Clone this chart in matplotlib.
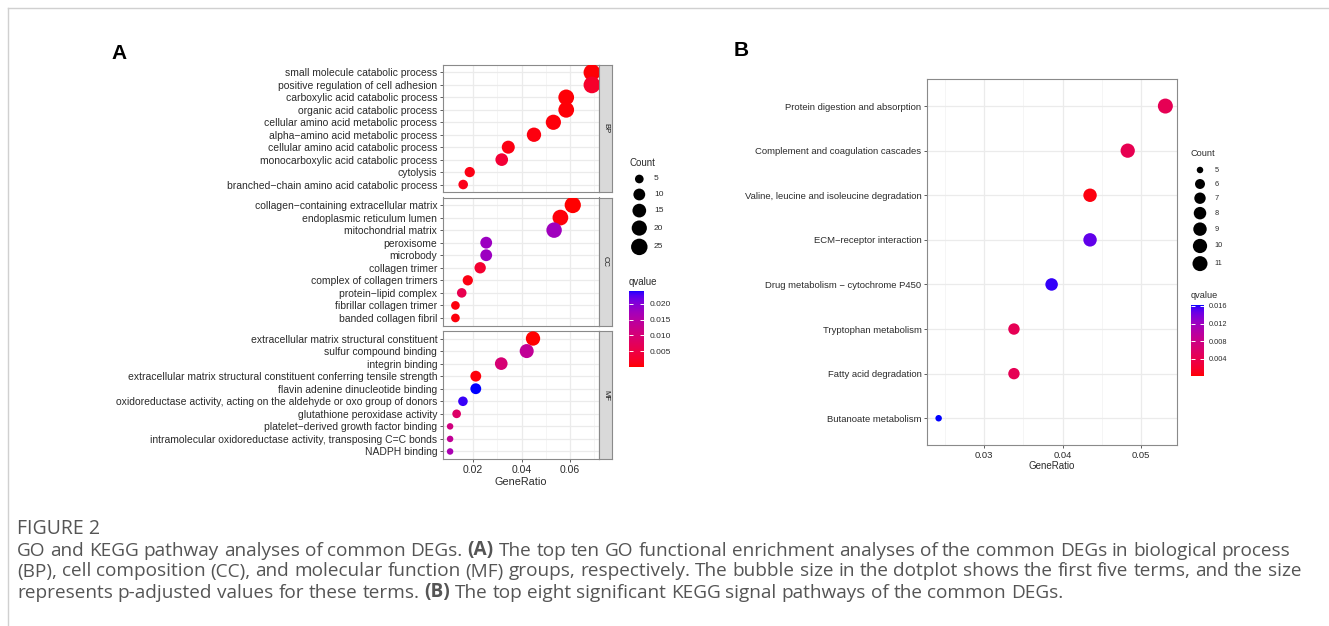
import numpy as np
import matplotlib
matplotlib.use("Agg")
import matplotlib.pyplot as plt
from matplotlib.colors import ListedColormap, Normalize
import matplotlib.cm as cm

# ---------------- data ----------------
M_ = "\u2212"
bp_terms = ["small molecule catabolic process", "positive regulation of cell adhesion",
            "carboxylic acid catabolic process", "organic acid catabolic process",
            "cellular amino acid metabolic process", "alpha" + M_ + "amino acid metabolic process",
            "cellular amino acid catabolic process", "monocarboxylic acid catabolic process",
            "cytolysis", "branched" + M_ + "chain amino acid catabolic process"]
bp_ratio = [0.0690, 0.0690, 0.0584, 0.0584, 0.0531, 0.0451, 0.0345, 0.0318, 0.0186, 0.0159]
bp_count = [26, 26, 22, 22, 20, 17, 13, 12, 7, 6]
bp_q = [0.0002, 0.0025, 0.0003, 0.0003, 0.0004, 0.0006, 0.0008, 0.0035, 0.0009, 0.0012]

cc_terms = ["collagen" + M_ + "containing extracellular matrix", "endoplasmic reticulum lumen",
            "mitochondrial matrix", "peroxisome", "microbody", "collagen trimer",
            "complex of collagen trimers", "protein" + M_ + "lipid complex",
            "fibrillar collagen trimer", "banded collagen fibril"]
cc_ratio = [0.0611, 0.0560, 0.0534, 0.0254, 0.0254, 0.0229, 0.0178, 0.0153, 0.0127, 0.0127]
cc_count = [24, 22, 21, 10, 10, 9, 7, 6, 5, 5]
cc_q = [0.00001, 0.0004, 0.0175, 0.0180, 0.0180, 0.0030, 0.0008, 0.0060, 0.0005, 0.0005]

mf_terms = ["extracellular matrix structural constituent", "sulfur compound binding",
            "integrin binding",
            "extracellular matrix structural constituent conferring tensile strength",
            "flavin adenine dinucleotide binding",
            "oxidoreductase activity, acting on the aldehyde or oxo group of donors",
            "glutathione peroxidase activity", "platelet" + M_ + "derived growth factor binding",
            "intramolecular oxidoreductase activity, transposing C=C bonds", "NADPH binding"]
mf_ratio = [0.0447, 0.0421, 0.0316, 0.0211, 0.0211, 0.0158, 0.0132, 0.0105, 0.0105, 0.0105]
mf_count = [17, 16, 12, 8, 8, 6, 5, 4, 4, 4]
mf_q = [0.0001, 0.0135, 0.0098, 0.0004, 0.0242, 0.0235, 0.0085, 0.0110, 0.0135, 0.0165]

go_facets = ["BP", "CC", "MF"]
go_size_breaks = [5, 10, 15, 20, 25]
go_q_breaks = [0.005, 0.010, 0.015, 0.020]

kegg_terms = ["Protein digestion and absorption", "Complement and coagulation cascades",
              "Valine, leucine and isoleucine degradation", "ECM" + M_ + "receptor interaction",
              "Drug metabolism " + M_ + " cytochrome P450", "Tryptophan metabolism",
              "Fatty acid degradation", "Butanoate metabolism"]
kegg_ratio = [0.0531, 0.0483, 0.0435, 0.0435, 0.0386, 0.0338, 0.0338, 0.0242]
kegg_count = [11, 10, 9, 9, 8, 7, 7, 5]
kegg_q = [0.0045, 0.0042, 0.0005, 0.0148, 0.0158, 0.0045, 0.0045, 0.0162]
kegg_size_breaks = [5, 6, 7, 8, 9, 10, 11]
kegg_q_breaks = [0.004, 0.008, 0.012, 0.016]

caption_title = "FIGURE 2"
caption_lines = [
    [("GO and KEGG pathway analyses of common DEGs.", False), ("(A)", True),
     ("The top ten GO functional enrichment analyses of the common DEGs in biological process", False)],
    [("(BP), cell composition (CC), and molecular function (MF) groups, respectively. The bubble size in the dotplot shows the first five terms, and the size", False)],
    [("represents p-adjusted values for these terms.", False), ("(B)", True),
     ("The top eight significant KEGG signal pathways of the common DEGs.", False)],
]

# ---------------- style helpers ----------------
W, H = 1329, 626
DPI = 100
FONT = "Liberation Sans"
plt.rcParams["font.family"] = [FONT, "DejaVu Sans"]
TXT = "#2b2b2b"
GRID_MAJ = "#EBEBEB"
GRID_MIN = "#F4F4F4"
BORDER = "#8a8a8a"

fig = plt.figure(figsize=(W / DPI, H / DPI), dpi=DPI)
renderer = fig.canvas.get_renderer()


def rect(x0, y0, x1, y1):
    return [x0 / W, 1 - y1 / H, (x1 - x0) / W, (y1 - y0) / H]


# Lab-space red -> blue gradient (as ggplot scale_color_gradient)
_M = np.array([[0.4124564, 0.3575761, 0.1804375],
               [0.2126729, 0.7151522, 0.0721750],
               [0.0193339, 0.1191920, 0.9503041]])
_WP = np.array([0.95047, 1.0, 1.08883])


def srgb2lab(rgb):
    rgb = np.asarray(rgb, float)
    lin = np.where(rgb <= 0.04045, rgb / 12.92, ((rgb + 0.055) / 1.055) ** 2.4)
    xyz = _M @ lin / _WP
    f = np.where(xyz > 216 / 24389, np.cbrt(xyz), (24389 / 27 * xyz + 16) / 116)
    return np.array([116 * f[1] - 16, 500 * (f[0] - f[1]), 200 * (f[1] - f[2])])


def lab2srgb(lab):
    L, a, b = lab
    fy = (L + 16) / 116
    f = np.array([fy + a / 500, fy, fy - b / 200])
    xyz = np.where(f ** 3 > 216 / 24389, f ** 3, (116 * f - 16) / (24389 / 27)) * _WP
    lin = np.clip(np.linalg.inv(_M) @ xyz, 0, 1)
    rgb = np.where(lin <= 0.0031308, 12.92 * lin, 1.055 * lin ** (1 / 2.4) - 0.055)
    return np.clip(rgb, 0, 1)


lab_lo, lab_hi = srgb2lab([1, 0, 0]), srgb2lab([0, 0, 1])
cmap = ListedColormap([lab2srgb(lab_lo + t * (lab_hi - lab_lo)) for t in np.linspace(0, 1, 256)])


def diam(c, cmin, cmax, d0, d1):
    return d0 + (d1 - d0) * np.sqrt((np.asarray(c, float) - cmin) / (cmax - cmin))


def s_of(dpx):
    return (np.asarray(dpx) * 72 / DPI) ** 2


def style_axes(ax, fs_tick):
    for sp in ax.spines.values():
        sp.set_color(BORDER)
        sp.set_linewidth(0.8)
    ax.grid(which="major", color=GRID_MAJ, lw=0.9, zorder=0)
    ax.grid(which="minor", axis="x", color=GRID_MIN, lw=0.6, zorder=0)
    ax.set_axisbelow(True)
    ax.tick_params(axis="both", which="major", length=2.5, width=0.6, color="#444444",
                   labelsize=fs_tick, labelcolor=TXT, pad=1.6)
    ax.tick_params(axis="x", which="minor", length=0)


# ---------------- Panel A ----------------
allA_ratio = np.array(bp_ratio + cc_ratio + mf_ratio)
allA_count = np.array(bp_count + cc_count + mf_count)
allA_q = np.array(bp_q + cc_q + mf_q)
spanA = allA_ratio.max() - allA_ratio.min()
xlimA = (allA_ratio.min() - 0.05 * spanA, allA_ratio.max() + 0.05 * spanA)
normA = Normalize(allA_q.min(), allA_q.max())
cminA, cmaxA = allA_count.min(), allA_count.max()
dA0, dA1 = 6.5, 16.7

facet_data = [(bp_terms, bp_ratio, bp_count, bp_q),
              (cc_terms, cc_ratio, cc_count, cc_q),
              (mf_terms, mf_ratio, mf_count, mf_q)]
facet_px = [(65, 192), (197.5, 325.5), (331, 459)]
axA_x0, axA_x1, strip_x1 = 443, 599, 612

for i, ((terms, ratio, count, q), (top, bot), lab) in enumerate(zip(facet_data, facet_px, go_facets)):
    ax = fig.add_axes(rect(axA_x0, top, axA_x1, bot))
    n = len(terms)
    ypos = np.arange(n)[::-1] + 1
    ax.scatter(ratio, ypos, s=s_of(diam(count, cminA, cmaxA, dA0, dA1)), c=q, cmap=cmap,
               norm=normA, linewidths=0, zorder=3)
    ax.set_xlim(*xlimA)
    ax.set_ylim(0.4, n + 0.6)
    ax.set_yticks(ypos)
    ax.set_yticklabels(terms)
    ax.set_xticks([0.02, 0.04, 0.06])
    ax.set_xticks([0.03, 0.05, 0.07], minor=True)
    style_axes(ax, 7.5)
    if i < 2:
        ax.tick_params(axis="x", which="major", length=0, labelbottom=False)
    else:
        ax.set_xticklabels(["0.02", "0.04", "0.06"])
        ax.set_xlabel("GeneRatio", fontsize=7.8, color=TXT, labelpad=1.5)
    st = fig.add_axes(rect(axA_x1, top, strip_x1, bot))
    st.set_facecolor("#D9D9D9")
    st.set_xticks([]); st.set_yticks([])
    for sp in st.spines.values():
        sp.set_color(BORDER); sp.set_linewidth(0.8)
    st.text(0.5, 0.5, lab, rotation=-90, ha="center", va="center", fontsize=5.5,
            color="#1a1a1a", transform=st.transAxes)

# ---------------- Panel B ----------------
kr = np.array(kegg_ratio)
spanB = kr.max() - kr.min()
xlimB = (kr.min() - 0.05 * spanB, kr.max() + 0.05 * spanB)
normB = Normalize(min(kegg_q) - 0.0004, max(kegg_q))
cminB, cmaxB = min(kegg_count), max(kegg_count)
dB0, dB1 = 6.5, 15.0

axB = fig.add_axes(rect(927.3, 79.3, 1176.7, 445))
nB = len(kegg_terms)
yB = np.arange(nB)[::-1] + 1
axB.scatter(kegg_ratio, yB, s=s_of(diam(kegg_count, cminB, cmaxB, dB0, dB1)), c=kegg_q,
            cmap=cmap, norm=normB, linewidths=0, zorder=3)
axB.set_xlim(*xlimB)
axB.set_ylim(0.4, nB + 0.6)
axB.set_yticks(yB)
axB.set_yticklabels(kegg_terms)
axB.set_xticks([0.03, 0.04, 0.05])
axB.set_xticklabels(["0.03", "0.04", "0.05"])
axB.set_xticks([0.025, 0.035, 0.045], minor=True)
style_axes(axB, 6.8)
axB.set_xlabel("GeneRatio", fontsize=7.0, color=TXT, labelpad=1.2)

# ---------------- overlay: legends, frame, labels ----------------
ov = fig.add_axes([0, 0, 1, 1])
ov.set_xlim(0, W)
ov.set_ylim(H, 0)
ov.axis("off")

# frame
ov.plot([7.5, 7.5], [8, H], color="#D0D0D0", lw=1.0, clip_on=False)
ov.plot([7.5, W], [8, 8], color="#D0D0D0", lw=1.0, clip_on=False)

ov.text(119, 53.5, "A", fontsize=15, fontweight="bold", ha="center", va="center", color="black")
ov.text(741, 50, "B", fontsize=15, fontweight="bold", ha="center", va="center", color="black")


def size_legend(x_title, y_title, x_dot, x_lab, y_first, breaks, cmin, cmax, d0, d1,
                kmin, fs_title, fs_lab):
    ov.text(x_title, y_title, "Count", fontsize=fs_title, color=TXT, ha="left", va="center")
    ds = diam(breaks, cmin, cmax, d0, d1)
    hs = np.maximum(kmin, ds + 3.0)
    ys = y_first + np.concatenate([[0], np.cumsum((hs[:-1] + hs[1:]) / 2)])
    ov.scatter(np.full(len(breaks), x_dot), ys, s=s_of(ds), color="black", linewidths=0)
    for b, y in zip(breaks, ys):
        ov.text(x_lab, y, str(b), fontsize=fs_lab, color=TXT, ha="left", va="center")


def q_legend(x_title, y_title, bar_rect, norm, breaks, fmt, fs_title, fs_lab):
    ov.text(x_title, y_title, "qvalue", fontsize=fs_title, color=TXT, ha="left", va="center")
    cax = fig.add_axes(rect(*bar_rect))
    sm = cm.ScalarMappable(norm=norm, cmap=cmap)
    cb = fig.colorbar(sm, cax=cax, ticks=breaks)
    cb.outline.set_visible(False)
    cax.set_yticklabels([fmt.format(b) for b in breaks])
    cax.tick_params(direction="in", length=3, width=0.7, color="white", left=True, right=True,
                    labelleft=False, labelright=True, labelsize=fs_lab, labelcolor=TXT, pad=3.5)


size_legend(629, 162.7, 639.3, 654, 179, go_size_breaks, cminA, cmaxA, dA0, dA1, 15.5, 7.0, 6.0)
q_legend(629, 281.7, (629.3, 290.7, 644.3, 366.7), normA, go_q_breaks, "{:.3f}", 7.0, 6.0)

size_legend(1190.7, 154, 1200, 1214.7, 170, kegg_size_breaks, cminB, cmaxB, dB0, dB1, 14.0, 6.6, 5.3)
q_legend(1190.7, 295, (1190.7, 305, 1204.3, 376), normB, kegg_q_breaks, "{:.3f}", 6.6, 5.3)

# ---------------- caption ----------------
CAP_FAM = ["Open Sans", "Lato", "DejaVu Sans"]
CAP_COL = "#555555"
CAP_W = "normal"


def measure(word, fs, bold):
    t = fig.text(0, 0, word, fontsize=fs, family=CAP_FAM, fontweight="bold" if bold else CAP_W)
    w = t.get_window_extent(renderer).width
    t.remove()
    return w


def words_of(segs):
    out = []
    for text, bold in segs:
        for w in text.split():
            out.append((w, bold))
    return out


def space_w(fs):
    return measure("x x", fs, False) - measure("xx", fs, False)


def natural_width(segs, fs):
    ws = words_of(segs)
    return sum(measure(w, fs, b) for w, b in ws) + space_w(fs) * (len(ws) - 1)


fs0 = 12.0
fs_cap = fs0 * 1278.0 / natural_width(caption_lines[1], fs0)


def draw_line(segs, x0, ybase, fs):
    ws = words_of(segs)
    gap = space_w(fs)
    x = x0
    for w, b in ws:
        ov.text(x, ybase, w, fontsize=fs, family=CAP_FAM, fontweight="bold" if b else CAP_W,
                color=CAP_COL, ha="left", va="baseline")
        x += measure(w, fs, b) + gap


fs_title = fs0 * 83.0 / measure(caption_title, fs0, False)
ov.text(17, 534, caption_title, fontsize=fs_title, family=CAP_FAM, fontweight="normal",
        color="#555555", ha="left", va="baseline")
for segs, yc in zip(caption_lines, [550, 571, 592]):
    draw_line(segs, 17, yc + 5.5, fs_cap)

fig.savefig("out.png", dpi=DPI)
